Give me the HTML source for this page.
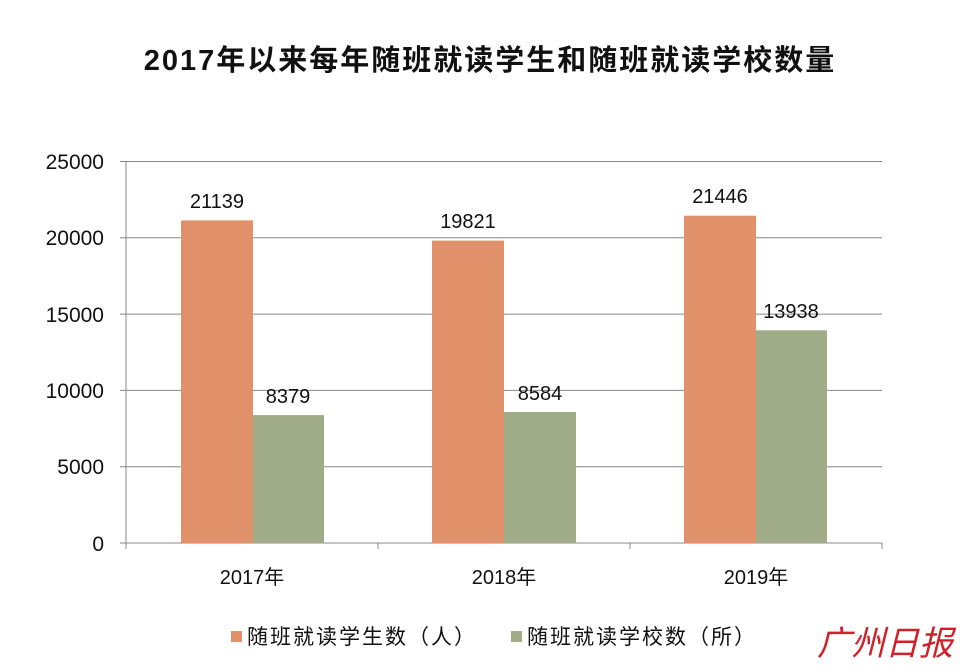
<!DOCTYPE html>
<html><head><meta charset="utf-8"><style>
html,body{margin:0;padding:0;background:#fff;width:960px;height:670px;overflow:hidden}
svg text{font-family:"Liberation Sans","Noto Sans CJK SC",sans-serif;fill:#111}
</style></head><body>
<svg width="960" height="670" viewBox="0 0 960 670" xmlns="http://www.w3.org/2000/svg">
<text x="490" y="70" text-anchor="middle" font-size="29" font-weight="bold" letter-spacing="2">2017年以来每年随班就读学生和随班就读学校数量</text>
<g stroke="#888" stroke-width="1">
<line x1="120" y1="161.5" x2="882" y2="161.5"/>
<line x1="120" y1="237.8" x2="882" y2="237.8"/>
<line x1="120" y1="314.1" x2="882" y2="314.1"/>
<line x1="120" y1="390.4" x2="882" y2="390.4"/>
<line x1="120" y1="466.7" x2="882" y2="466.7"/>
<line x1="120" y1="543" x2="882" y2="543"/>
<line x1="126" y1="161" x2="126" y2="549"/>
<line x1="378" y1="543" x2="378" y2="549"/>
<line x1="630" y1="543" x2="630" y2="549"/>
<line x1="882" y1="543" x2="882" y2="549"/>
</g>
<g font-size="21" text-anchor="end">
<text x="104" y="169">25000</text>
<text x="104" y="245">20000</text>
<text x="104" y="322">15000</text>
<text x="104" y="398">10000</text>
<text x="104" y="474">5000</text>
<text x="104" y="551">0</text>
</g>
<g fill="#E0916A">
<rect x="181" y="220.4" width="72" height="322.6"/>
<rect x="432" y="240.6" width="72" height="302.4"/>
<rect x="684" y="215.7" width="72" height="327.3"/>
</g>
<g fill="#A0AB88">
<rect x="253" y="415.1" width="71" height="127.9"/>
<rect x="504" y="412.0" width="72" height="131"/>
<rect x="756" y="330.3" width="71" height="212.7"/>
</g>
<g font-size="20" text-anchor="middle">
<text x="217" y="208">21139</text>
<text x="468" y="228">19821</text>
<text x="720" y="203">21446</text>
<text x="288" y="403">8379</text>
<text x="540" y="400">8584</text>
<text x="791" y="318">13938</text>
<text x="252" y="584">2017年</text>
<text x="504" y="584">2018年</text>
<text x="756" y="584">2019年</text>
</g>
<rect x="231" y="631" width="11" height="11" fill="#E0916A"/>
<text x="247" y="644" font-size="21" letter-spacing="2">随班就读学生数（人）</text>
<rect x="511" y="631" width="11" height="11" fill="#A0AB88"/>
<text x="527" y="644" font-size="21" letter-spacing="2">随班就读学校数（所）</text>
<text x="885" y="655" text-anchor="middle" font-size="34" font-style="italic" style="fill:#d0202a" font-family="'Noto Serif CJK SC',serif">广州日报</text>
</svg>
</body></html>
